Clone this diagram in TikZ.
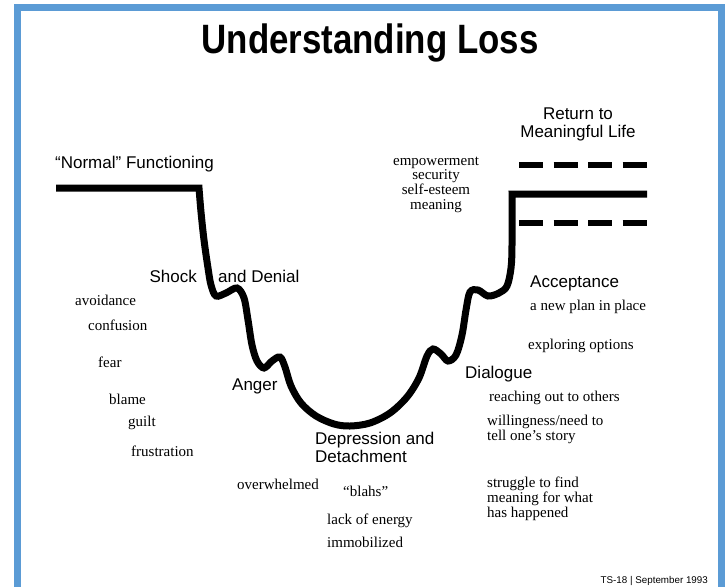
\documentclass[tikz,border=0pt]{standalone}
\usepackage{fontspec}
\usepackage{graphicx}
\setmainfont{Liberation Serif}
\newfontfamily\arialf{Liberation Sans}
\definecolor{framblue}{RGB}{91,155,213}
\setlength{\lineskiplimit}{-20pt}
\begin{document}
\setlength{\lineskiplimit}{-20pt}
\begin{tikzpicture}[x=1pt,y=-1pt,
  sans/.style={font=\arialf\fontsize{17}{17.5}\selectfont, inner sep=0pt},
  serif/.style={font=\fontsize{15}{14.6}\selectfont, inner sep=0pt},
  curve/.style={line width=7pt, black},
  dashline/.style={line width=5.5pt, dash pattern=on 24pt off 10.5pt},
  framestyle/.style={draw=framblue, line width=7pt}]
\useasboundingbox (0,0) rectangle (727,586);
\clip (0,0) rectangle (727,586);
\fill[white] (0,0) rectangle (727,586);
% frame
\draw[framestyle] (17,8) rectangle (721,592);
% title
\node[font=\arialf\bfseries\fontsize{41}{45}\selectfont, inner sep=0pt, anchor=base] (title) at (370,53) {\scalebox{0.85}[1]{Understanding Loss}};
% curve
\coordinate (n0) at (56,188);
\coordinate (c1) at (199,188);
\coordinate (n1) at (647,194);
\draw[curve] (n0) -- (c1) -- plot[smooth, tension=0.55] coordinates {(199,188) (201,212) (204,240) (208,268) (211,285) (216,296) (226,293) (237,288) (244,298) (248,320) (252,345) (257,361) (264,368) (272,361) (280,357) (285,367) (291,386) (301,403) (316,416) (334,424) (350,426) (370,423) (390,413) (407,397) (419,378) (427,356) (433,349) (441,354) (448,361) (456,355) (462,335) (466,310) (470,292) (478,290) (488,296) (499,293) (507,286) (511,268) (512,245) (512,194)} -- (n1);
% dashed lines
\coordinate (d1a) at (519,165);
\coordinate (d1b) at (647,165);
\coordinate (d2a) at (519,223);
\coordinate (d2b) at (647,223);
\draw[dashline] (d1a) -- (d1b);
\draw[dashline] (d2a) -- (d2b);
% stage labels
\node[sans, anchor=base west] (normal) at (55,168) {“Normal” Functioning};
\node[sans, anchor=base east] (shock) at (197,282) {Shock};
\node[sans, anchor=base west] (denial) at (218,282) {and Denial};
\node[sans, anchor=base west] (anger) at (232,390) {Anger};
\node[sans, anchor=base west, align=left] (depr) at (315,462) {Depression and\\Detachment};
\node[sans, anchor=base west] (dialogue) at (465,378) {Dialogue};
\node[sans, anchor=base west] (accept) at (530,287) {Acceptance};
\node[sans, anchor=base, align=center] (return) at (578,137) {Return to\\Meaningful Life};
% serif notes
\node[serif, anchor=base, align=center] (empower) at (436,209) {empowerment\\security\\self-esteem\\meaning};
\node[serif, anchor=base west] (avoid) at (75,305) {avoidance};
\node[serif, anchor=base west] (confu) at (88,330) {confusion};
\node[serif, anchor=base west] (fear) at (98,367) {fear};
\node[serif, anchor=base west] (blame) at (109,404) {blame};
\node[serif, anchor=base west] (guilt) at (128,426) {guilt};
\node[serif, anchor=base west] (frust) at (131,456) {frustration};
\node[serif, anchor=base west] (overw) at (237,489) {overwhelmed};
\node[serif, anchor=base west] (blahs) at (343,496) {“blahs”};
\node[serif, anchor=base west] (lack) at (327,524) {lack of energy};
\node[serif, anchor=base west] (immob) at (327,547) {immobilized};
\node[serif, anchor=base west] (plan) at (530,310) {a new plan in place};
\node[serif, anchor=base west] (explore) at (528,349) {exploring options};
\node[serif, anchor=base west] (reach) at (489,401) {reaching out to others};
\node[serif, anchor=base west, align=left] (willing) at (487,440) {willingness/need to\\tell one’s story};
\node[serif, anchor=base west, align=left] (strug) at (487,517) {struggle to find\\meaning for what\\has happened};
% footer
\node[font=\arialf\fontsize{9.8}{11}\selectfont, inner sep=0pt, anchor=base east] (foot) at (708,583) {TS-18 | September 1993};
\end{tikzpicture}
\end{document}
